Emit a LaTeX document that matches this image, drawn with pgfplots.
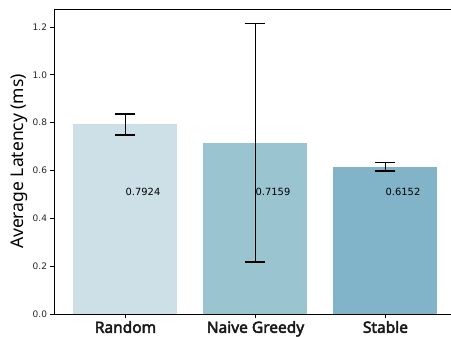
\documentclass[border=0pt]{standalone}
\usepackage{pgfplots}
\pgfplotsset{compat=1.18}
\usepackage{fontspec}
\setmainfont{DejaVu Sans}
\newfontfamily\notosans{Noto Sans}
\newfontfamily\notosansb{Noto Sans}[AutoFakeBold=3]
\definecolor{cA}{RGB}{205,224,231}
\definecolor{cB}{RGB}{155,196,209}
\definecolor{cC}{RGB}{129,180,200}
\begin{document}
\begin{tikzpicture}
\begin{axis}[
  scale only axis, width=397bp, height=305bp,
  xmin=-0.55, xmax=2.504, ymin=0, ymax=1.275,
  ybar, bar width=0.8, bar shift=0pt,
  clip=false,
  xtick={0,1,2}, xticklabels={Random, Naive Greedy, Stable},
  ytick={0,0.2,0.4,0.6,0.8,1.0,1.2},
  yticklabel style={/pgf/number format/fixed, /pgf/number format/fixed zerofill, /pgf/number format/precision=1},
  /pgf/number format/assume math mode=true,
  axis lines=left, axis line style={-, line width=0.8bp},
  tick align=outside, major tick length=3.5bp,
  tick style={line width=0.8bp, black},
  y tick label style={font=\fontsize{9bp}{10bp}\selectfont, color=black!85},
  x tick label style={font=\notosansb\bfseries\fontsize{15.5bp}{17bp}\selectfont, color=black!90},
  every axis y label/.style={at={(axis description cs:0,0.5)}, rotate=90, anchor=center, yshift=35bp},
  ylabel={\notosans\fontsize{17.5bp}{19bp}\selectfont Average Latency (ms)},
  error bars/error bar style={line width=1.3bp, black},
  error bars/error mark options={rotate=90, mark size=10bp, line width=1.3bp, black},
]
\addplot[fill=cA, draw=none, error bars/.cd, y dir=both, y explicit] coordinates {(0,0.7924) +- (0,0.044)};
\addplot[fill=cB, draw=none, error bars/.cd, y dir=both, y explicit] coordinates {(1,0.7159) +- (0,0.499)};
\addplot[fill=cC, draw=none, error bars/.cd, y dir=both, y explicit] coordinates {(2,0.6152) +- (0,0.017)};
\draw[line width=0.8bp] (rel axis cs:0,1) -- (rel axis cs:1,1);
\node[anchor=west, inner sep=0pt, font=\fontsize{9.9bp}{11bp}\selectfont] at (axis cs:0,0.511) {0.7924};
\node[anchor=west, inner sep=0pt, font=\fontsize{9.9bp}{11bp}\selectfont] at (axis cs:1,0.511) {0.7159};
\node[anchor=west, inner sep=0pt, font=\fontsize{9.9bp}{11bp}\selectfont] at (axis cs:2,0.511) {0.6152};
\coordinate (sw) at (rel axis cs:0,0);
\coordinate (ne) at (rel axis cs:1,1);
\end{axis}
\pgfresetboundingbox
\path ([shift={(-54bp,-23bp)}]sw) rectangle ([shift={(0bp,9bp)}]ne);
\end{tikzpicture}
\end{document}
